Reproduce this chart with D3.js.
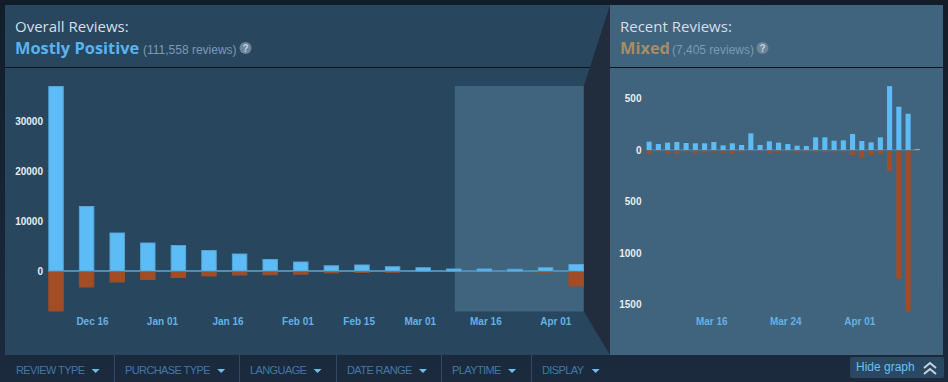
<!DOCTYPE html>
<html>
<head>
<meta charset="utf-8">
<script src="https://cdn.jsdelivr.net/npm/d3@7"></script>
<style>
html, body { margin: 0; padding: 0; background: #1b2838; overflow: hidden; }
svg { display: block; }
text { font-family: "Liberation Sans", Arial, sans-serif; }
.title { font-family: "Open Sans", sans-serif; }
.tick text { font-size: 10px; }
</style>
</head>
<body>
<script>
const parseDay = d3.timeParse("%Y-%m-%d");

// weekly, whole history
const overallWeeks = ["2020-12-06","2020-12-13","2020-12-20","2020-12-27","2021-01-03","2021-01-10","2021-01-17","2021-01-24","2021-01-31","2021-02-07","2021-02-14","2021-02-21","2021-02-28","2021-03-07","2021-03-14","2021-03-21","2021-03-28","2021-04-04"];
const overallUp = [37000,13000,7700,5700,5200,4200,3500,2400,1900,1150,1300,950,750,500,500,450,750,1400];
const overallDown = [8100,3300,2300,1800,1400,1100,900,850,750,480,400,350,250,200,150,100,350,3100];
const overallTicks = ["2020-12-16","2021-01-01","2021-01-16","2021-02-01","2021-02-15","2021-03-01","2021-03-16","2021-04-01"];
const overallYTicks = [0,10000,20000,30000];

// daily, last 30 days
const recentDays = ["2021-03-09","2021-03-10","2021-03-11","2021-03-12","2021-03-13","2021-03-14","2021-03-15","2021-03-16","2021-03-17","2021-03-18","2021-03-19","2021-03-20","2021-03-21","2021-03-22","2021-03-23","2021-03-24","2021-03-25","2021-03-26","2021-03-27","2021-03-28","2021-03-29","2021-03-30","2021-03-31","2021-04-01","2021-04-02","2021-04-03","2021-04-04","2021-04-05","2021-04-06","2021-04-07"];
const recentUp = [81,58,71,78,68,65,65,78,45,65,49,162,49,84,71,58,42,39,123,123,90,94,155,87,74,123,620,420,352,10];
const recentDown = [36,19,32,39,23,32,26,26,29,39,26,16,10,29,26,13,26,23,23,23,23,23,49,74,52,39,204,1250,1570,15];
const recentTicks = ["2021-03-16","2021-03-24","2021-04-01"];
const recentYTicks = [-1500,-1000,-500,0,500];

const filters = ["REVIEW TYPE","PURCHASE TYPE","LANGUAGE","DATE RANGE","PLAYTIME","DISPLAY"];
const filterX = [16,125,250,347,452,542];
const filterEdges = [114,239,336,441,531];

const svg = d3.select("body").append("svg").attr("width", 948).attr("height", 382);

const defs = svg.append("defs");
const topFade = defs.append("linearGradient").attr("id", "pageBg").attr("x1", 0).attr("x2", 0).attr("y1", 0).attr("y2", 1);
topFade.append("stop").attr("offset", "0%").attr("stop-color", "#141c28");
topFade.append("stop").attr("offset", "100%").attr("stop-color", "#1c2a3e");

svg.append("rect").attr("width", 948).attr("height", 382).attr("fill", "url(#pageBg)");

// panels
svg.append("rect").attr("x", 5).attr("y", 5).attr("width", 605).attr("height", 350).attr("fill", "#29465f");
svg.append("rect").attr("x", 610).attr("y", 5).attr("width", 333).attr("height", 350).attr("fill", "#40637e");

function header(x, label, verdict, color, count, countX, helpX) {
  svg.append("text").attr("class", "title").attr("x", x).attr("y", 32)
    .attr("font-size", 15).attr("fill", "#d6dfe6").text(label);
  svg.append("text").attr("class", "title").attr("x", x).attr("y", 54)
    .attr("font-size", 16.4).attr("font-weight", 700).attr("fill", color).text(verdict);
  svg.append("text").attr("x", countX).attr("y", 54)
    .attr("font-size", 12).attr("fill", "#7c9ab2").text(count);
  svg.append("circle").attr("cx", helpX).attr("cy", 48).attr("r", 6).attr("fill", "#6d859b");
  svg.append("text").attr("x", helpX).attr("y", 52).attr("text-anchor", "middle")
    .attr("font-size", 10).attr("font-weight", 700).attr("fill", "#c5d2dc").text("?");
}
header(15, "Overall Reviews:", "Mostly Positive", "#58b4f0", "(111,558 reviews)", 143, 245.5);
header(620, "Recent Reviews:", "Mixed", "#a98d61", "(7,405 reviews)", 672, 762.5);

svg.append("line").attr("x1", 5).attr("x2", 943).attr("y1", 67.5).attr("y2", 67.5).attr("stroke", "#0a121c");

// scales
const xOverall = d3.scaleTime()
  .domain([parseDay("2020-12-16"), parseDay("2021-04-01")])
  .range([92, 555.3]);
const yOverall = d3.scaleLinear().domain([0, 30000]).range([271, 121]);

const xRecent = d3.scaleTime()
  .domain([parseDay("2021-03-16"), parseDay("2021-04-01")])
  .range([711.3, 859.3]);
const yRecent = d3.scaleLinear().domain([0, 500]).range([150, 98.5]);

const weekDates = overallWeeks.map(parseDay);
const dayDates = recentDays.map(parseDay);
const weekBarW = (xOverall(weekDates[1]) - xOverall(weekDates[0])) * 0.505;
const dayBarW = (xRecent(dayDates[1]) - xRecent(dayDates[0])) * 0.55;

// selected range on the overall chart
const rangeLeft = xOverall(dayDates[0]);
const rangeRight = xOverall(weekDates[weekDates.length - 1]) + weekBarW;
svg.append("rect")
  .attr("x", rangeLeft).attr("width", rangeRight - rangeLeft)
  .attr("y", yOverall(37000)).attr("height", yOverall(-8100) - yOverall(37000))
  .attr("fill", "#40637e");

// connector between the range and the recent panel
svg.append("path")
  .attr("d", d3.line()([[610, 5], [rangeRight, yOverall(37000)], [rangeRight, yOverall(-8100)], [610, 355]]) + "Z")
  .attr("fill", "#212d3d");

// zero lines sit under the bars
svg.append("line").attr("x1", 48).attr("x2", 584).attr("y1", yOverall(0)).attr("y2", yOverall(0))
  .attr("stroke", "#4a90b8").attr("stroke-width", 2);
svg.append("line").attr("x1", 647).attr("x2", 919).attr("y1", yRecent(0)).attr("y2", yRecent(0))
  .attr("stroke", "#4a90b8").attr("stroke-width", 1);

function drawBars(days, ups, downs, x, y, barW, edged) {
  const rows = days.map((d, i) => ({ d: d, up: ups[i], down: downs[i] }));
  const inset = edged ? 0.5 : 0;
  const lineGap = edged ? 1 : 0.5;
  const g = svg.append("g");
  g.selectAll("rect.up").data(rows).join("rect").attr("class", "up")
    .attr("x", r => x(r.d) + inset).attr("width", barW - inset * 2)
    .attr("y", r => y(r.up) + inset).attr("height", r => y(0) - y(r.up) - inset)
    .attr("fill", "#5dbcf6")
    .attr("stroke", edged ? "#55a5d8" : "none");
  g.selectAll("rect.down").data(rows).join("rect").attr("class", "down")
    .attr("x", r => x(r.d) + inset).attr("width", barW - inset * 2)
    .attr("y", y(0) + lineGap).attr("height", r => Math.max(y(-r.down) - y(0) - lineGap - inset, 0))
    .attr("fill", "#a44d24")
    .attr("stroke", edged ? "#964f2c" : "none");
}

drawBars(weekDates, overallUp, overallDown, xOverall, yOverall, weekBarW, true);
drawBars(dayDates, recentUp, recentDown, xRecent, yRecent, dayBarW, false);

// axes
function styleAxis(g, color) {
  g.select(".domain").remove();
  g.selectAll(".tick line").remove();
  g.selectAll("text").attr("fill", color).style("font-weight", 700);
}
svg.append("g").attr("transform", "translate(43,0)")
  .call(d3.axisLeft(yOverall).tickValues(overallYTicks).tickSize(0).tickPadding(0).tickFormat(d3.format("d")))
  .call(styleAxis, "#e6edf2");
svg.append("g").attr("transform", "translate(641.5,0)")
  .call(d3.axisLeft(yRecent).tickValues(recentYTicks).tickSize(0).tickPadding(0).tickFormat(v => Math.abs(v)))
  .call(styleAxis, "#e6edf2");

const dayLabel = d3.timeFormat("%b %d");
svg.append("g").attr("transform", "translate(0,315)")
  .call(d3.axisBottom(xOverall).tickValues(overallTicks.map(parseDay)).tickSize(0).tickFormat(dayLabel))
  .call(styleAxis, "#62b2e6");
svg.append("g").attr("transform", "translate(0,315)")
  .call(d3.axisBottom(xRecent).tickValues(recentTicks.map(parseDay)).tickSize(0).tickFormat(dayLabel))
  .call(styleAxis, "#62b2e6");

// filter bar
const filterBar = svg.append("g");
filterBar.selectAll("line").data(filterEdges).join("line")
  .attr("x1", d => d + 0.5).attr("x2", d => d + 0.5).attr("y1", 355).attr("y2", 382)
  .attr("stroke", "#2d4a66");
filterBar.selectAll("text").data(filters).join("text")
  .attr("x", (d, i) => filterX[i]).attr("y", 374)
  .attr("font-size", 11).attr("letter-spacing", -0.6).attr("fill", "#3f7aa6").text(d => d)
  .each(function () {
    const box = this.getBBox();
    const end = box.x + box.width;
    filterBar.append("path")
      .attr("d", d3.line()([[end + 7, 369], [end + 15, 369], [end + 11, 373]]) + "Z")
      .attr("fill", "#66c0f4");
  });

// hide graph button
svg.append("rect").attr("x", 850).attr("y", 357).attr("width", 94).attr("height", 21).attr("rx", 2).attr("fill", "#2a4862");
svg.append("text").attr("x", 856).attr("y", 371).attr("font-size", 12).attr("fill", "#66c0f4").text("Hide graph");
svg.append("path")
  .attr("d", "M924 368L930 363L936 368M924 374L930 369L936 374")
  .attr("fill", "none").attr("stroke", "#c6d4df").attr("stroke-width", 2);
</script>
</body>
</html>
